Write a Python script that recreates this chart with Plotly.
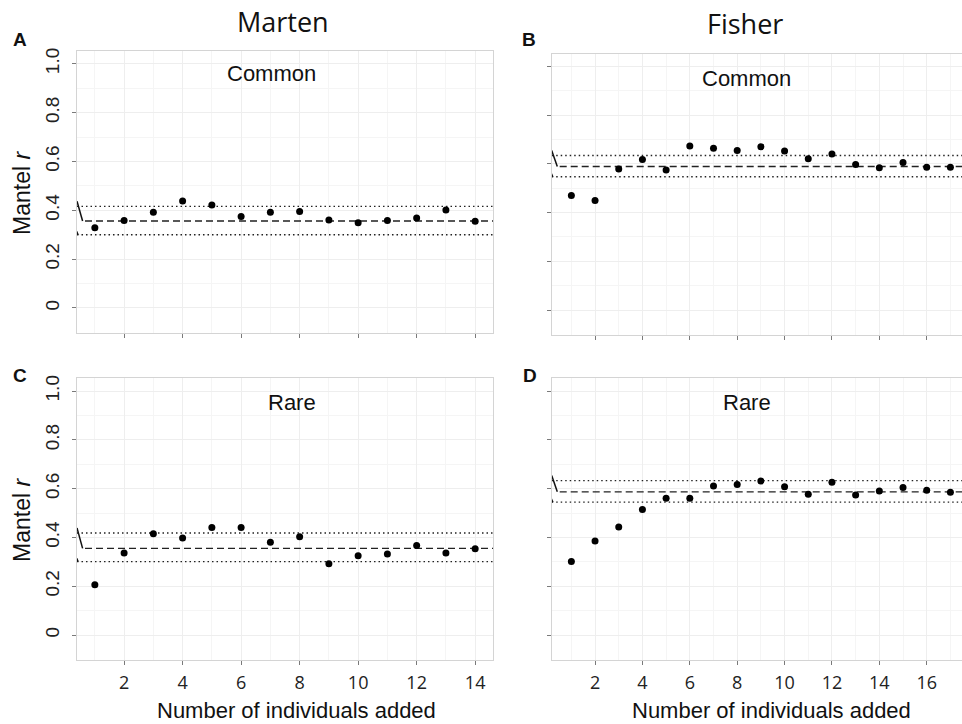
import plotly.graph_objects as go

# ---------------- data ----------------
x_marten = list(range(1, 15))
x_fisher = list(range(1, 18))

marten_common = [0.329, 0.358, 0.392, 0.438, 0.422, 0.375, 0.392, 0.395, 0.360, 0.349, 0.358, 0.368, 0.401, 0.355]
fisher_common = [0.470, 0.449, 0.579, 0.618, 0.574, 0.673, 0.664, 0.655, 0.670, 0.652, 0.621, 0.640, 0.597, 0.584, 0.605, 0.586, 0.586]
marten_rare = [0.206, 0.336, 0.415, 0.398, 0.441, 0.441, 0.380, 0.403, 0.292, 0.325, 0.332, 0.367, 0.336, 0.354]
fisher_rare = [0.301, 0.385, 0.443, 0.515, 0.561, 0.561, 0.611, 0.617, 0.631, 0.608, 0.577, 0.626, 0.574, 0.590, 0.605, 0.593, 0.585]

# reference lines: lower, mean, upper
marten_common_ref = [0.300, 0.356, 0.416]
fisher_common_ref = [0.547, 0.589, 0.634]
marten_rare_ref = [0.301, 0.355, 0.418]
fisher_rare_ref = [0.545, 0.587, 0.633]

y_tickvals = [0, 0.2, 0.4, 0.6, 0.8, 1.0]
y_ticktext = ["0", "0.2", "0.4", "0.6", "0.8", "1.0"]
x_tickvals = [2, 4, 6, 8, 10, 12, 14, 16]

panel_letters = ["A", "B", "C", "D"]
panel_labels = ["Common", "Common", "Rare", "Rare"]
column_titles = ["Marten", "Fisher"]
x_title = "Number of individuals added"
y_title = "Mantel <i>r</i>"

# ---------------- layout geometry ----------------
W, H = 962, 724


def px_x(p):
    return p / W


def px_y(p):
    return 1 - p / H


panels = [
    # (x data, y data, ref, xaxis id, yaxis id, px left, px right, px top, px bottom, xrange)
    (x_marten, marten_common, marten_common_ref, "x", "y", 77, 493.3, 51, 333, [0.39, 14.62]),
    (x_fisher, fisher_common, fisher_common_ref, "x2", "y2", 551.7, 962, 53.5, 335, [0.17, 17.49]),
    (x_marten, marten_rare, marten_rare_ref, "x3", "y3", 77, 493.3, 378.3, 660, [0.39, 14.62]),
    (x_fisher, fisher_rare, fisher_rare_ref, "x4", "y4", 551.7, 962, 378.3, 660, [0.17, 17.49]),
]
y_range = [-0.1025, 1.0525]

fig = go.Figure()
layout_axes = {}

for i, (xs, ys, ref, xa, ya, l, r, t, b, xr) in enumerate(panels):
    lo, mean, hi = ref
    px_per_unit = (r - l) / (xr[1] - xr[0])
    # dotted bounds
    for v in (lo, hi):
        fig.add_trace(go.Scatter(x=[xr[0], xr[1]], y=[v, v], mode="lines", xaxis=xa, yaxis=ya,
                                 line=dict(color="#222222", width=1.4, dash="1.5px,3px"),
                                 hoverinfo="skip", showlegend=False))
    # dashed mean
    fig.add_trace(go.Scatter(x=[xr[0] + 8 / px_per_unit, xr[1]], y=[mean, mean], mode="lines",
                             xaxis=xa, yaxis=ya,
                             line=dict(color="#222222", width=1.4, dash="7px,4px"),
                             hoverinfo="skip", showlegend=False))
    # break marks
    dx = 5.6 / px_per_unit
    fig.add_trace(go.Scatter(x=[xr[0], xr[0] + dx, None, xr[0] - 0.3 * dx, xr[0] + 0.2 * dx],
                             y=[hi + 0.021, mean, None, lo + 0.025, lo],
                             mode="lines", xaxis=xa, yaxis=ya,
                             line=dict(color="#111111", width=1.5),
                             hoverinfo="skip", showlegend=False))
    # points
    fig.add_trace(go.Scatter(x=xs, y=ys, mode="markers", xaxis=xa, yaxis=ya,
                             marker=dict(color="black", size=7),
                             showlegend=False))

    right_col = i in (1, 3)
    bottom_row = i in (2, 3)
    xkey = "xaxis" + ("" if i == 0 else str(i + 1))
    ykey = "yaxis" + ("" if i == 0 else str(i + 1))
    layout_axes[xkey] = dict(
        domain=[px_x(l), px_x(r)], range=xr, anchor=ya, automargin=False,
        tickvals=x_tickvals, showticklabels=bottom_row,
        ticks="outside", ticklen=4, tickcolor="#7a7a7a", tickwidth=1,
        tickfont=dict(family="Open Sans", size=18, color="#222222"),
        ticklabelstandoff=2,
        showline=True, linecolor="#d4d4d4", linewidth=1, mirror=True,
        showgrid=True, gridcolor="#eeeeee", gridwidth=1, zeroline=False,
        minor=dict(dtick=1, tick0=1, showgrid=True, gridcolor="#f5f5f5", ticks=""),
    )
    layout_axes[ykey] = dict(
        domain=[px_y(b), px_y(t)], range=y_range, anchor=xa, automargin=False,
        tickvals=y_tickvals, ticktext=y_ticktext, showticklabels=not right_col,
        tickangle=-90,
        ticks="outside", ticklen=4, tickcolor="#7a7a7a", tickwidth=1,
        tickfont=dict(family="Liberation Sans", size=19, color="#222222"),
        ticklabelstandoff=5,
        showline=True, linecolor="#d4d4d4", linewidth=1, mirror=not right_col,
        showgrid=True, gridcolor="#eeeeee", gridwidth=1, zeroline=False,
        minor=dict(dtick=0.1, tick0=0, showgrid=True, gridcolor="#f5f5f5", ticks=""),
    )

annotations = []


def ann(text, x, y, size, family="Liberation Sans", angle=0, color="#111111"):
    annotations.append(dict(text=text, x=px_x(x), y=px_y(y), xref="paper", yref="paper",
                            xanchor="center", yanchor="middle", showarrow=False,
                            textangle=angle, font=dict(family=family, size=size, color=color)))


# column titles
ann(column_titles[0], 283, 21, 27, family="Open Sans")
ann(column_titles[1], 745, 23, 27, family="Open Sans")
# panel letters
for letter, (x, y) in zip(panel_letters, [(20, 40), (529, 39), (20, 375), (530, 375)]):
    ann("<b>" + letter + "</b>", x, y, 19, family="Liberation Sans")
# in-panel labels
for label, (x, y) in zip(panel_labels, [(271.7, 73.3), (746.7, 78.3), (291.7, 402.3), (746.7, 402.3)]):
    ann(label, x, y, 22)
# axis titles
ann(y_title, 22, 193, 23, angle=-90)
ann(y_title, 22, 520, 23, angle=-90)
ann(x_title, 296.7, 710, 22)
ann(x_title, 771.7, 710, 22)

fig.update_layout(
    width=W, height=H, autosize=False,
    margin=dict(l=0, r=0, t=0, b=0, autoexpand=False),
    paper_bgcolor="white", plot_bgcolor="white",
    annotations=annotations,
    **layout_axes,
)

fig.write_html(
    "out.html",
    config={"displayModeBar": False},
    post_script="document.body.style.margin='0px';document.body.style.overflow='hidden';",
)
